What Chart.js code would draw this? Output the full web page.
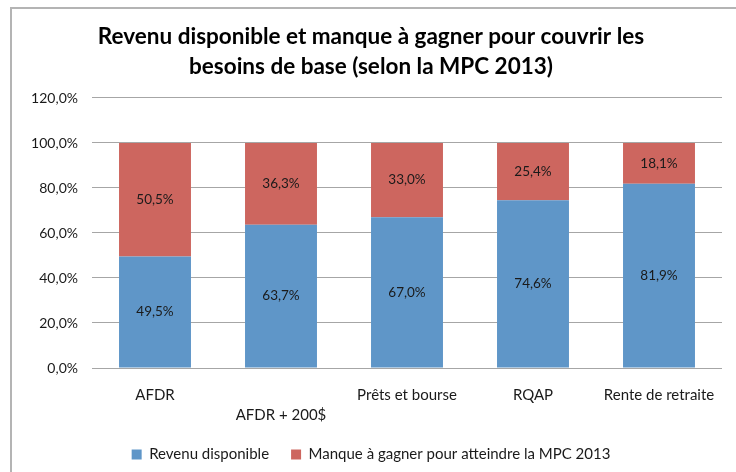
<!DOCTYPE html>
<html>
<head>
<meta charset="utf-8">
<script src="https://cdn.jsdelivr.net/npm/chart.js@4.4.1/dist/chart.umd.min.js"></script>
<style>
  html, body { margin: 0; padding: 0; background: #fff; }
  #wrap { width: 736px; height: 472px; position: relative; }
</style>
</head>
<body>
<div id="wrap"><canvas id="chart" width="736" height="472"></canvas></div>
<script>
// categories and series
var categories = ['AFDR', 'AFDR + 200$', 'Prêts et bourse', 'RQAP', 'Rente de retraite'];
var revenu = [49.5, 63.7, 67.0, 74.6, 81.9];
var manque = [50.5, 36.3, 33.0, 25.4, 18.1];
var seriesNames = ['Revenu disponible', 'Manque à gagner pour atteindre la MPC 2013'];
var titleLines = ['Revenu disponible et manque à gagner pour couvrir les', 'besoins de base (selon la MPC 2013)'];
var yTicks = [0, 20, 40, 60, 80, 100, 120];
var loweredLabels = [1];   // excel pushed this one down a line

var FONT = 'Lato, "Open Sans", sans-serif';

function fmt(v) {
    return v.toFixed(1).replace('.', ',') + '%';
}

var xLabels = categories.map(function (c, i) {
    return loweredLabels.indexOf(i) >= 0 ? ['', c] : c;
});

var frame = {
    id: 'frame',
    beforeDraw: function (chart) {
        var c = chart.ctx;
        c.save();
        c.fillStyle = '#fff';
        c.fillRect(0, 0, chart.width, chart.height);
        c.strokeStyle = '#b4b4b4';
        c.lineWidth = 2;
        c.beginPath();
        c.moveTo(11, chart.height);
        c.lineTo(11, 8);
        c.lineTo(chart.width, 8);
        c.stroke();
        c.restore();
    }
};

var barLabels = {
    id: 'barLabels',
    afterDatasetsDraw: function (chart) {
        var c = chart.ctx;
        c.save();
        c.font = '13.5px ' + FONT;
        c.fillStyle = '#1a1a1a';
        c.textAlign = 'center';
        c.textBaseline = 'middle';
        chart.data.datasets.forEach(function (ds, di) {
            var meta = chart.getDatasetMeta(di);
            meta.data.forEach(function (bar, i) {
                c.fillText(fmt(ds.data[i]), bar.x, (bar.y + bar.base) / 2);
            });
        });
        c.restore();
    }
};

var ctx = document.getElementById('chart').getContext('2d');
var myChart = new Chart(ctx, {
    type: 'bar',
    data: {
        labels: xLabels,
        datasets: [{
            label: seriesNames[0],
            backgroundColor: '#5F96C8',
            data: revenu
        }, {
            label: seriesNames[1],
            backgroundColor: '#CD665F',
            data: manque
        }]
    },
    options: {
        responsive: false,
        animation: false,
        layout: { padding: { left: 20, right: 14, top: 0, bottom: 0 } },
        datasets: {
            bar: { categoryPercentage: 1, barPercentage: 0.571 }
        },
        scales: {
            x: {
                stacked: true,
                grid: { display: false, drawTicks: false },
                border: { display: false },
                ticks: {
                    color: '#1a1a1a',
                    font: { family: FONT, size: 15, lineHeight: 1.333 },
                    padding: 17,
                    maxRotation: 0,
                    autoSkip: false
                },
                afterFit: function (scale) { scale.height = 57; }
            },
            y: {
                stacked: true,
                min: 0,
                max: 120,
                afterBuildTicks: function (scale) {
                    scale.ticks = yTicks.map(function (v) { return { value: v }; });
                },
                grid: { color: '#a6a6a6', lineWidth: 1, drawTicks: false },
                border: { display: false },
                ticks: {
                    color: '#1a1a1a',
                    font: { family: FONT, size: 14 },
                    padding: 14,
                    callback: function (v) { return fmt(v); }
                },
                afterFit: function (scale) { scale.width = 72; }
            }
        },
        plugins: {
            title: {
                display: true,
                text: titleLines,
                color: '#000',
                font: { family: FONT, size: 22.5, weight: 'bold', lineHeight: 1.333 },
                padding: { top: 22, bottom: 16 }
            },
            legend: {
                position: 'bottom',
                labels: {
                    color: '#1a1a1a',
                    font: { family: FONT, size: 15 },
                    boxWidth: 10,
                    boxHeight: 10,
                    padding: 22
                }
            },
            tooltip: { enabled: false }
        }
    },
    plugins: [frame, barLabels]
});
</script>
</body>
</html>
